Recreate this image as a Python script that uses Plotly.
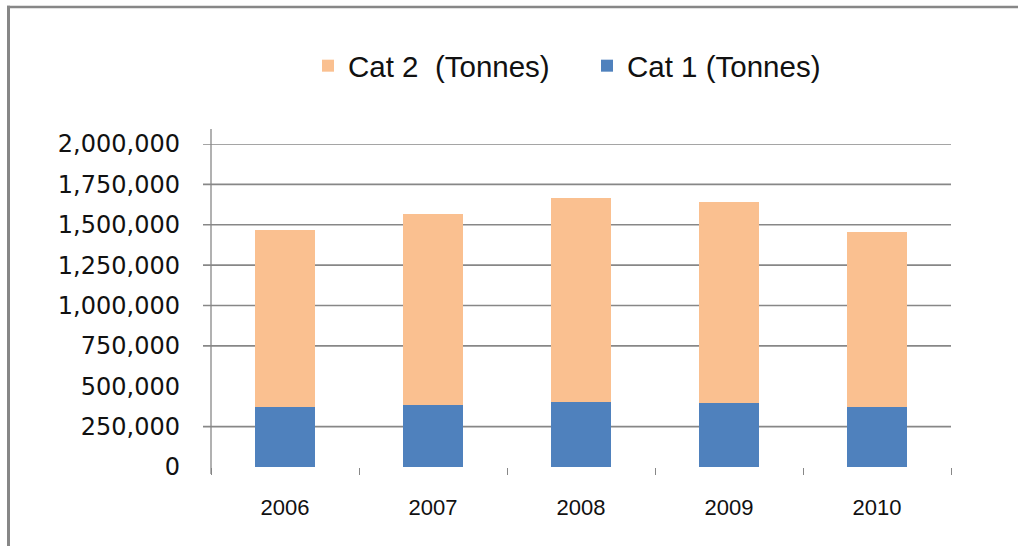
import plotly.graph_objects as go

years = ["2006", "2007", "2008", "2009", "2010"]
cat1 = [371000, 384000, 402000, 396000, 371000]
cat2 = [1096000, 1182000, 1263000, 1244000, 1083000]
gridline_values = [250000, 750000, 1000000, 1250000, 1500000, 1750000, 2000000]
y_ticks = [0, 250000, 500000, 750000, 1000000, 1250000, 1500000, 1750000, 2000000]

BLUE = "#4F81BD"
ORANGE = "#FAC090"
GRID = "#878787"

fig = go.Figure()
fig.add_trace(go.Bar(x=years, y=cat1, name="Cat 1 (Tonnes)", marker=dict(color=BLUE, line=dict(width=0))))
fig.add_trace(go.Bar(x=years, y=cat2, name="Cat 2\u00a0 (Tonnes)", marker=dict(color=ORANGE, line=dict(width=0))))

W, H = 1018, 546
L, R, T, B = 211, 67, 144, 79
pw, ph = W - L - R, H - T - B


def px_x(px):
    return (px - L) / pw


def px_y(py):
    return (H - B - py) / ph


shapes = []
for v in gridline_values:
    shapes.append(dict(type="line", xref="paper", yref="y", x0=px_x(203), x1=1, y0=v, y1=v,
                       line=dict(color=GRID, width=1.6), layer="below"))
# y axis line
shapes.append(dict(type="line", xref="paper", yref="paper", x0=0, x1=0, y0=px_y(474), y1=px_y(129),
                   line=dict(color=GRID, width=1.3)))
# outer frame (left and top)
shapes.append(dict(type="line", xref="paper", yref="paper", x0=px_x(8.5), x1=px_x(8.5),
                   y0=px_y(560), y1=px_y(5.8),
                   line=dict(color=GRID, width=3)))
shapes.append(dict(type="line", xref="paper", yref="paper", x0=px_x(7), x1=px_x(W + 5),
                   y0=px_y(7), y1=px_y(7),
                   line=dict(color=GRID, width=2.6)))

fig.update_layout(
    width=W, height=H,
    margin=dict(l=L, r=R, t=T, b=B, pad=0),
    paper_bgcolor="white", plot_bgcolor="white",
    barmode="stack", bargap=0.6,
    shapes=shapes,
    legend=dict(orientation="h", x=px_x(308), xanchor="left", y=px_y(66), yanchor="middle",
                traceorder="reversed", font=dict(family="Liberation Sans", size=29.5, color="#111"),
                entrywidth=234, entrywidthmode="pixels", bgcolor="rgba(0,0,0,0)"),
    xaxis=dict(type="category", tickson="boundaries", ticks="outside", ticklen=7, tickwidth=1.3,
               tickcolor=GRID, showline=False, showgrid=False, zeroline=False,
               tickfont=dict(family="Liberation Sans", size=22, color="#111"), ticklabelstandoff=25),
    yaxis=dict(range=[0, 2000000], tickvals=y_ticks, tickformat=",", showgrid=False, zeroline=False,
               showline=False, ticks="", ticklabelstandoff=30,
               tickfont=dict(family="DejaVu Sans", size=24, color="#111")),
)

fig.write_html("out.html")
